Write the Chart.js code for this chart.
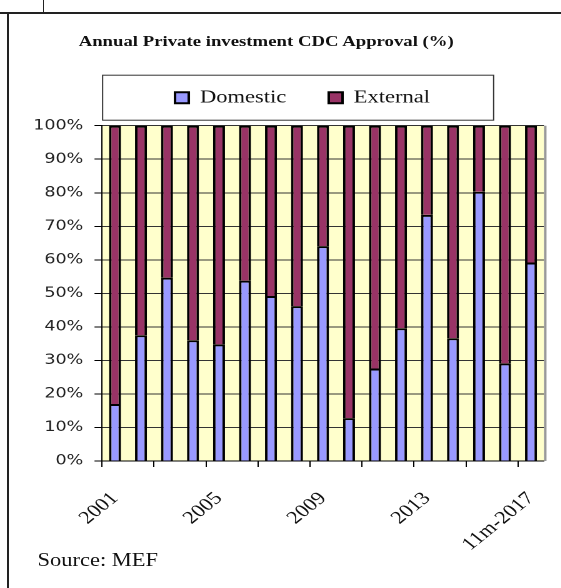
<!DOCTYPE html>
<html>
<head>
<meta charset="utf-8">
<script src="https://cdn.jsdelivr.net/npm/chart.js@4.4.1/dist/chart.umd.min.js"></script>
<style>
  body { margin: 0; background: #fff; overflow: hidden; }
  .linea { position: absolute; background: #222; }
  #envoltura { position: absolute; left: 0; top: 0; width: 449px; height: 588px; transform: scaleX(1.25); transform-origin: 0 0; }
  #titulo { position: absolute; left: 0; top: 33px; width: 426px; text-align: center; font: bold 15px "Liberation Serif", serif; color: #111; }
  #fuente { position: absolute; left: 30px; top: 550px; font: 18px "Liberation Serif", serif; color: #111; }
  #caja { position: absolute; left: 8px; top: 14px; width: 440px; height: 540px; }
</style>
</head>
<body>
<div class="linea" style="left:0;top:12px;width:561px;height:2px"></div>
<div class="linea" style="left:43px;top:0;width:1px;height:13px"></div>
<div class="linea" style="left:7px;top:13px;width:2px;height:575px"></div>

<div id="envoltura">
  <div id="titulo">Annual Private investment CDC Approval (%)</div>
  <div id="caja"><canvas id="grafico"></canvas></div>
  <div id="fuente">Source: MEF</div>
</div>

<script>
const anios = ['2001', '2002', '2003', '2004', '2005', '2006', '2007', '2008', '2009',
    '2010', '2011', '2012', '2013', '2014', '2015', '2016', '11m-2017'];
const domestico = [17, 37.5, 54.7, 36, 34.8, 53.8, 49.2, 46.2, 64.1, 12.8, 27.6, 39.6, 73.4, 36.6, 80.3, 29.1, 59.2];
const externo = [83, 62.5, 45.3, 64, 65.2, 46.2, 50.8, 53.8, 35.9, 87.2, 72.4, 60.4, 26.6, 63.4, 19.7, 70.9, 40.8];
const marcasY = [0, 10, 20, 30, 40, 50, 60, 70, 80, 90, 100];

// fondo amarillo del area de trazado, caja de la leyenda y borde derecho gris
const marcoPlugin = {
    id: 'marco',
    afterLayout(chart) {
        // la leyenda va un poco a la derecha, centrada sobre su caja
        chart.legend.left += 20.4;
        chart.legend.right += 20.4;
    },
    beforeDraw(chart) {
        const { ctx, chartArea } = chart;
        ctx.save();
        ctx.fillStyle = '#FFFFCC';
        ctx.fillRect(chartArea.left, chartArea.top, chartArea.right - chartArea.left, chartArea.bottom - chartArea.top);
        ctx.restore();
    },
    afterDraw(chart) {
        const { ctx, chartArea } = chart;
        ctx.save();
        ctx.strokeStyle = '#333';
        ctx.lineWidth = 1;
        ctx.strokeRect(chartArea.left + 0.5, chartArea.top - 50.5, 312.8, 45);
        ctx.strokeStyle = '#999';
        ctx.lineWidth = 2;
        ctx.beginPath();
        ctx.moveTo(chartArea.right + 1, chartArea.top);
        ctx.lineTo(chartArea.right + 1, chartArea.bottom);
        ctx.stroke();
        ctx.restore();
    }
};

const ctx = document.getElementById('grafico').getContext('2d');

new Chart(ctx, {
    type: 'bar',
    data: {
        labels: anios,
        datasets: [
            { label: 'Domestic', data: domestico, backgroundColor: '#9999FF', borderColor: '#000', borderWidth: 2 },
            { label: 'External', data: externo, backgroundColor: '#993366', borderColor: '#000', borderWidth: 2 }
        ]
    },
    options: {
        responsive: true,
        maintainAspectRatio: false,
        animation: false,
        devicePixelRatio: 2,
        layout: { padding: { left: 0, right: 12.8, top: 40.7, bottom: 0 } },
        datasets: { bar: { barPercentage: 0.46, categoryPercentage: 1 } },
        plugins: {
            tooltip: { enabled: false },
            legend: {
                position: 'top',
                labels: {
                    color: '#111',
                    font: { family: '"Liberation Serif", serif', size: 18 },
                    boxWidth: 11,
                    boxHeight: 11,
                    padding: 34
                }
            },
            // titulo vacio usado solo como separacion entre leyenda y grafico
            title: { display: true, text: '', weight: 500, padding: 0, font: { size: 9, lineHeight: 1 } }
        },
        scales: {
            x: {
                stacked: true,
                grid: {
                    drawOnChartArea: false,
                    tickLength: 6,
                    tickColor: (c) => c.index % 2 === 0 ? '#000' : 'rgba(0,0,0,0)'
                },
                border: { color: '#000', width: 1 },
                ticks: {
                    autoSkip: false,
                    maxRotation: 45,
                    minRotation: 45,
                    padding: 21,
                    color: '#111',
                    font: { family: '"Liberation Serif", serif', size: 18 },
                    callback: (v, i) => i % 4 === 0 ? anios[i] : ''
                },
                afterFit: (scale) => {
                    scale.height = 93;
                    scale.paddingLeft = 0;
                    scale.paddingRight = 0;
                }
            },
            y: {
                stacked: true,
                min: 0,
                max: 100,
                afterBuildTicks: (scale) => { scale.ticks = marcasY.map(v => ({ value: v })); },
                grid: { color: '#333', lineWidth: 1, tickColor: '#000', tickLength: 6 },
                border: { color: '#000', width: 1 },
                ticks: {
                    padding: 9,
                    color: '#222',
                    font: { family: '"DejaVu Sans", sans-serif', size: 14 },
                    callback: (v) => v + '%'
                },
                afterFit: (scale) => { scale.width = 73.6; }
            }
        }
    },
    plugins: [marcoPlugin]
});
</script>
</body>
</html>
